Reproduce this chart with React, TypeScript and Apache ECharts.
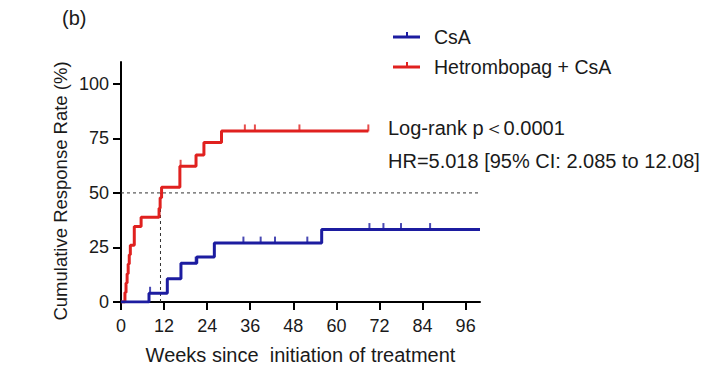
import React, { useEffect, useRef } from "react";
import * as echarts from "echarts";

const xTicks = [0, 12, 24, 36, 48, 60, 72, 84, 96];
const yTicks = [0, 25, 50, 75, 100];

// Kaplan-Meier style cumulative response (week, %)
const comboSteps: [number, number][] = [
  [0, 0], [1.1, 4.3], [1.4, 8.7], [1.7, 13.0], [2.0, 17.4], [2.3, 21.7], [2.6, 26.0],
  [3.7, 34.6], [5.6, 38.9], [10.6, 43.0], [10.9, 47.8], [11.3, 52.6],
  [16.4, 62.2], [20.9, 67.4], [23.1, 73.1], [28.0, 78.4], [68.9, 78.4],
];
const csaSteps: [number, number][] = [
  [0, 0], [7.8, 4.0], [12.9, 10.6], [16.7, 17.8], [21.1, 20.6], [26.0, 27.0],
  [55.9, 33.2], [100, 33.2],
];
const comboCensor: [number, number][] = [
  [16.6, 62.2], [34.5, 78.4], [37.3, 78.4], [49.7, 78.4], [68.9, 78.4],
];
const csaCensor: [number, number][] = [
  [8.1, 4.0], [20.8, 17.8], [34.1, 27.0], [38.9, 27.0], [42.9, 27.0], [51.9, 27.0],
  [69.2, 33.2], [73.1, 33.2], [78.0, 33.2], [86.1, 33.2],
];
const medianH: [number, number][] = [[0, 50], [100, 50]];
const medianV: [number, number][] = [[11, 0], [11, 50]];

const seriesNames = ["CsA", "Hetrombopag + CsA"];
const annotation = ["Log-rank p＜0.0001", "HR=5.018 [95% CI: 2.085 to 12.08]"];

const BLUE = "#1c1ca0";
const RED = "#e0211f";
const FONT = "Liberation Sans, Arial, sans-serif";
const TXT = "#1a1a1a";

export default function App() {
  const ref = useRef<HTMLDivElement>(null);
  useEffect(() => {
    const chart = echarts.init(ref.current!, undefined, { renderer: "svg" });
    const legendItem = (y: number, color: string, label: string) => ({
      type: "group",
      children: [
        { type: "line", shape: { x1: 393, y1: y, x2: 420, y2: y }, style: { stroke: color, lineWidth: 3 } },
        { type: "line", shape: { x1: 407, y1: y - 5, x2: 407, y2: y }, style: { stroke: color, lineWidth: 2 } },
        {
          type: "text", x: 434, y,
          style: { text: label, font: `19.5px ${FONT}`, fill: TXT, verticalAlign: "middle", align: "left" },
        },
      ],
    });
    chart.setOption({
      animation: false,
      backgroundColor: "#ffffff",
      grid: { left: 121, right: 224, top: 62, bottom: 74, containLabel: false },
      xAxis: {
        type: "value", min: 0, max: 100,
        axisLine: { show: true, lineStyle: { color: "#000", width: 2 } },
        axisTick: { show: true, length: 8, lineStyle: { color: "#000", width: 2 }, customValues: xTicks },
        axisLabel: { color: TXT, fontSize: 18, fontFamily: FONT, margin: 15, customValues: xTicks },
        splitLine: { show: false },
        name: "Weeks since  initiation of treatment",
        nameLocation: "middle", nameGap: 43,
        nameTextStyle: { color: TXT, fontSize: 20, fontFamily: FONT },
      },
      yAxis: {
        type: "value", min: 0, max: 110,
        axisLine: { show: true, lineStyle: { color: "#000", width: 2 } },
        axisTick: { show: true, length: 8, lineStyle: { color: "#000", width: 2 }, customValues: yTicks },
        axisLabel: { color: TXT, fontSize: 18, fontFamily: FONT, margin: 12, customValues: yTicks },
        splitLine: { show: false },
      },
      graphic: [
        { type: "text", x: 62, y: 18, style: { text: "(b)", font: `20px ${FONT}`, fill: TXT, verticalAlign: "middle" } },
        {
          type: "text", x: 60, y: 191, rotation: Math.PI / 2,
          style: { text: "Cumulative Response Rate (%)", font: `18.5px ${FONT}`, fill: TXT, align: "center", verticalAlign: "middle" },
        },
        legendItem(37, BLUE, seriesNames[0]),
        legendItem(67, RED, seriesNames[1]),
        { type: "text", x: 388, y: 128, style: { text: annotation[0], font: `20px ${FONT}`, fill: TXT, verticalAlign: "middle" } },
        { type: "text", x: 388, y: 161, style: { text: annotation[1], font: `20px ${FONT}`, fill: TXT, verticalAlign: "middle" } },
      ],
      series: [
        {
          type: "line", data: medianH, showSymbol: false, silent: true,
          lineStyle: { color: "#333", width: 1, type: [3, 3] }, z: 1,
        },
        {
          type: "line", data: medianV, showSymbol: false, silent: true,
          lineStyle: { color: "#333", width: 1, type: [3, 3] }, z: 1,
        },
        {
          name: seriesNames[1], type: "line", step: "end", data: comboSteps, showSymbol: false,
          lineStyle: { color: RED, width: 3 }, z: 2,
        },
        {
          name: seriesNames[0], type: "line", step: "end", data: csaSteps, showSymbol: false,
          lineStyle: { color: BLUE, width: 3 }, z: 3,
        },
        {
          type: "scatter", data: comboCensor, symbol: "rect", symbolSize: [2, 7], symbolOffset: [0, -3],
          itemStyle: { color: RED }, z: 4,
        },
        {
          type: "scatter", data: csaCensor, symbol: "rect", symbolSize: [2, 7], symbolOffset: [0, -3],
          itemStyle: { color: BLUE }, z: 4,
        },
      ],
    });
    return () => chart.dispose();
  }, []);
  return <div ref={ref} style={{ width: 704, height: 376, position: "absolute", left: 0, top: 0 }} />;
}
